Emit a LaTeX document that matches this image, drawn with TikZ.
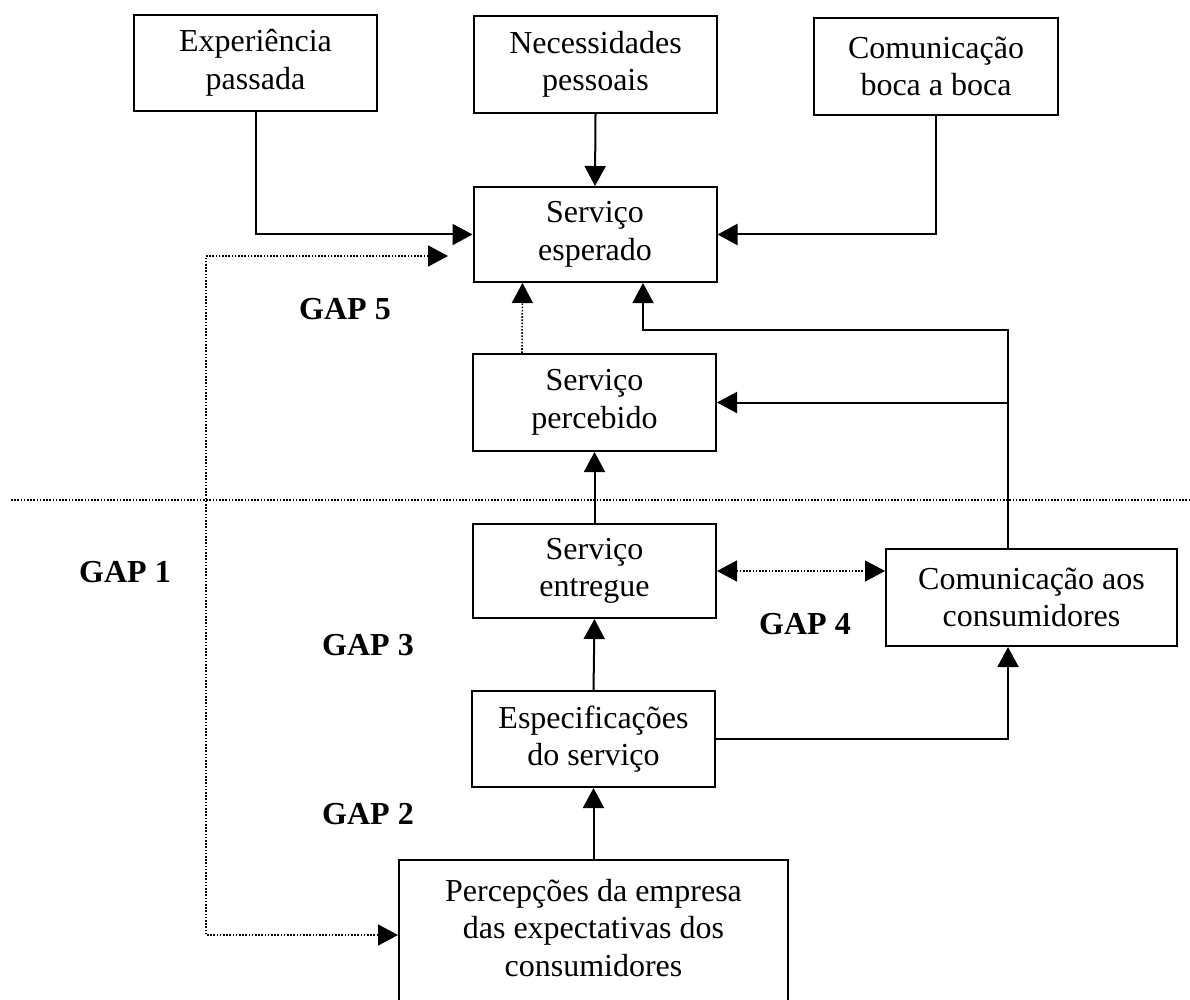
\documentclass[tikz,border=0pt]{standalone}
\usepackage{fontspec}
\setmainfont{Liberation Serif}
\usetikzlibrary{arrows.meta}
\begin{document}
\begin{tikzpicture}[x=1pt,y=-1pt,
  >={Triangle[length=20pt,width=21pt]},
  box/.style={draw, line width=2pt, align=center, inner sep=0pt,
    minimum width=243pt, font=\fontsize{32}{37.5}\selectfont},
  gap/.style={font=\fontsize{32}{36}\selectfont\bfseries},
  conn/.style={line width=2pt, ->},
  dots/.style={line width=1.6pt, dash pattern=on 1.6pt off 1.6pt},
]
\useasboundingbox (0,0) rectangle (1190,1000);

% boxes
\node[box, minimum height=96pt] (exp) at (255.5,63) {Experiência\\passada};
\node[box, minimum height=97pt] (nec) at (595.5,64.5) {Necessidades\\pessoais};
\node[box, minimum width=244pt, minimum height=97pt] (com) at (936,66.5) {Comunicação\\boca a boca};
\node[box, minimum height=95pt] (esp) at (595,234.5) {Serviço\\esperado};
\node[box, minimum height=97pt] (perc) at (594.5,402.5) {Serviço\\percebido};
\node[box, minimum height=94pt] (ent) at (594.5,571) {Serviço\\entregue};
\node[box, minimum width=291pt, minimum height=97pt] (cons) at (1031.5,597.5) {Comunicação aos\\consumidores};
\node[box, minimum height=96pt] (spec) at (593.5,739) {Especificações\\do serviço};
\node[draw, line width=2pt, minimum width=389pt, minimum height=150pt, anchor=north] (emp) at (593.5,859) {};
\node[align=center, font=\fontsize{32}{37.5}\selectfont] (empt) at (593.5,928)
  {Percepções da empresa\\das expectativas dos\\consumidores};

% gap labels
\node[gap] (g5) at (345,309) {GAP 5};
\node[gap] (g1) at (125,572) {GAP 1};
\node[gap] (g3) at (368,645) {GAP 3};
\node[gap] (g4) at (805,624) {GAP 4};
\node[gap] (g2) at (368,814) {GAP 2};

% dividing line
\coordinate (hl) at (11,500);
\coordinate (hr) at (1190,500);
\draw[dots] (hl) -- (hr);

% connectors into the expected service
\draw[conn] (exp.south) |- (esp.west);
\draw[conn] (nec.south) -- (esp.north);
\draw[conn] (com.south) |- (esp.east);
\coordinate (dtop) at (448,256);
\draw[dots, <->] (dtop) -- ++(-242,0) |- (emp.west);
\draw[dots, ->] ([xshift=-72.5pt]perc.north) -- ([xshift=-72.5pt]esp.south);
\coordinate (cbr) at ([xshift=-23.5pt]cons.north);
\draw[conn] (cbr) -- ++(0,-218) -| ([xshift=48pt]esp.south);
\draw[conn] (cbr |- perc.east) -- (perc.east);

% lower chain
\draw[conn] (ent.north) -- (perc.south);
\draw[dots, <->] (ent.east) -- (cons.west |- ent.east);
\draw[conn] (spec.north) -- (ent.south);
\draw[conn] (spec.east) -| (cons.south -| cbr);
\draw[conn] (emp.north) -- (spec.south);
\end{tikzpicture}
\end{document}
